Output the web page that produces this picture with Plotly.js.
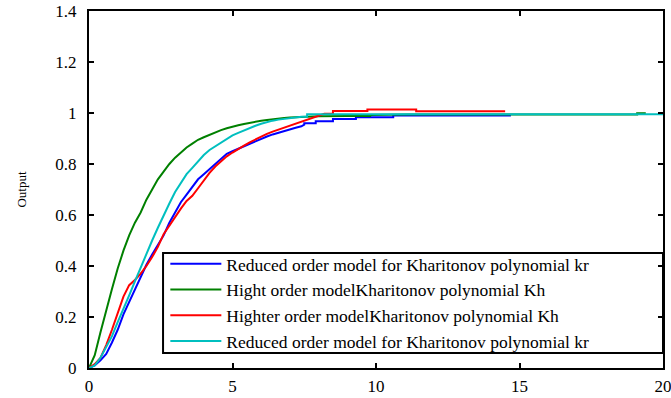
<!DOCTYPE html>
<html>
<head>
<meta charset="utf-8">
<script src="https://cdn.plot.ly/plotly-3.0.1.min.js"></script>
<style>html,body{margin:0;padding:0;background:#fff;}#chart{width:671px;height:398px;}</style>
</head>
<body>
<div id="chart"></div>
<script>
// time samples (s) and step-response outputs
const tGreen = [0,0.2,0.4,0.6,0.8,1.0,1.2,1.4,1.6,1.8,2.0,2.2,2.4,2.6,2.8,3.0,3.2,3.4,3.6,3.8,4.0,4.2,4.4,4.6,4.8,5.0,5.2,5.4,5.6,5.8,6.0,6.2,6.4,6.6,6.8,7.0,7.2,7.4,7.6,7.8,8.0,9.0,9.8,9.8,11.1,19.1,19.1,19.4];
const yGreen = [0,0.05,0.14,0.23,0.31,0.39,0.46,0.52,0.57,0.61,0.66,0.70,0.74,0.77,0.80,0.825,0.845,0.865,0.88,0.895,0.905,0.915,0.925,0.933,0.94,0.947,0.952,0.957,0.962,0.966,0.97,0.973,0.976,0.978,0.98,0.982,0.983,0.984,0.985,0.986,0.987,0.988,0.988,0.992,0.994,0.994,0.999,0.999];

const tCyan = [0,0.2,0.4,0.6,0.8,1.0,1.2,1.4,1.6,1.8,2.0,2.2,2.4,2.6,2.8,3.0,3.2,3.4,3.6,3.8,4.0,4.2,4.4,4.6,4.8,5.0,5.2,5.4,5.6,5.8,6.0,6.2,6.4,6.6,6.8,7.0,7.2,7.4,7.6,7.6,20];
const yCyan = [0,0.01,0.04,0.08,0.125,0.18,0.23,0.285,0.34,0.395,0.45,0.5,0.55,0.6,0.645,0.69,0.725,0.76,0.785,0.81,0.835,0.855,0.87,0.885,0.9,0.912,0.922,0.932,0.942,0.95,0.958,0.965,0.97,0.974,0.977,0.98,0.982,0.985,0.985,0.995,0.995];

const tBlue = [0,0.2,0.4,0.6,0.8,1.0,1.2,1.4,1.6,1.8,2.0,2.2,2.4,2.6,2.8,3.0,3.2,3.4,3.6,3.8,4.0,4.2,4.4,4.6,4.8,5.0,5.2,5.4,5.6,5.8,6.0,6.2,6.4,6.6,6.8,7.0,7.2,7.4,7.5,7.5,7.9,7.9,8.5,8.5,9.3,9.3,10.6,10.6,14.7];
const yBlue = [0,0.01,0.03,0.055,0.1,0.15,0.21,0.26,0.31,0.355,0.405,0.445,0.48,0.52,0.57,0.61,0.65,0.68,0.71,0.74,0.76,0.78,0.80,0.82,0.84,0.85,0.86,0.87,0.88,0.89,0.90,0.908,0.916,0.923,0.93,0.936,0.942,0.948,0.954,0.96,0.96,0.968,0.968,0.976,0.976,0.983,0.983,0.99,0.99];

const tRed = [0,0.2,0.4,0.6,0.8,1.0,1.2,1.4,1.6,1.8,2.0,2.2,2.4,2.6,2.8,3.0,3.2,3.4,3.6,3.8,4.0,4.2,4.4,4.6,4.8,5.0,5.2,5.4,5.6,5.8,6.0,6.2,6.4,6.6,6.8,7.0,7.2,7.4,7.6,7.8,8.0,8.2,8.5,8.5,9.7,9.7,11.4,11.4,14.5];
const yRed = [0,0.015,0.04,0.09,0.15,0.215,0.28,0.325,0.345,0.37,0.40,0.435,0.475,0.525,0.56,0.59,0.625,0.655,0.675,0.705,0.735,0.765,0.79,0.81,0.83,0.845,0.86,0.872,0.885,0.897,0.908,0.918,0.927,0.935,0.943,0.95,0.958,0.966,0.975,0.984,0.99,0.997,0.997,1.008,1.008,1.014,1.014,1.007,1.007];

const seriesNames = [
  "Reduced order model for Kharitonov polynomial kr",
  "Hight order modelKharitonov polynomial Kh",
  "Highter order modelKharitonov polynomial Kh",
  "Reduced order model for Kharitonov polynomial kr"
];
const xTicks = [0,5,10,15,20];
const yTicks = [0,0.2,0.4,0.6,0.8,1,1.2,1.4];
const yTickText = ["0","0.2","0.4","0.6","0.8","1","1.2","1.4"];

const colors = ["#0000ff","#008000","#ff0000","#00bfbf"];
const xs = [tBlue,tGreen,tRed,tCyan];
const ys = [yBlue,yGreen,yRed,yCyan];

const traces = xs.map((x,i)=>({
  x: x, y: ys[i], type:'scatter', mode:'lines', name: seriesNames[i],
  line:{color:colors[i], width:2, shape:'linear'}, legendgroup:'g'+i
}));

const fam = 'Liberation Serif, Times New Roman, serif';
const font = {family:fam, size:17, color:'#000'};

const layout = {
  width:671, height:398,
  margin:{l:89, r:8, t:11, b:30, pad:0},
  paper_bgcolor:'#fff', plot_bgcolor:'#fff',
  font: font,
  showlegend:true,
  legend:{x:0.133, y:0.342, xanchor:'left', yanchor:'top', bgcolor:'rgba(0,0,0,0)', borderwidth:0,
          itemwidth:51, tracegroupgap:1, font:{family:fam, size:17.5, color:'#000'}, traceorder:'normal'},
  xaxis:{range:[0,20], tickvals:xTicks, ticks:'inside', ticklen:5, tickwidth:2, tickcolor:'#000',
         showline:true, linecolor:'#000', linewidth:2, mirror:'ticks', showgrid:false, zeroline:false,
         tickfont:font, ticklabelstandoff:2, ticklabeloverflow:'allow'},
  yaxis:{range:[0,1.4], tickvals:yTicks, ticktext:yTickText, ticks:'inside', ticklen:5, tickwidth:2, tickcolor:'#000',
         showline:true, linecolor:'#000', linewidth:2, mirror:'ticks', showgrid:false, zeroline:false,
         tickfont:font, ticklabelstandoff:7, ticklabeloverflow:'allow',
         title:{text:'Output', font:{family:fam, size:13, color:'#000'}, standoff:26}},
  shapes:[{type:'rect', xref:'paper', yref:'paper', x0:0.129, x1:1, y0:0.042, y1:0.322,
           line:{color:'#000', width:2}, fillcolor:'rgba(0,0,0,0)', layer:'above'}]
};

Plotly.newPlot('chart', traces, layout, {displayModeBar:false, staticPlot:true});
</script>
</body>
</html>
